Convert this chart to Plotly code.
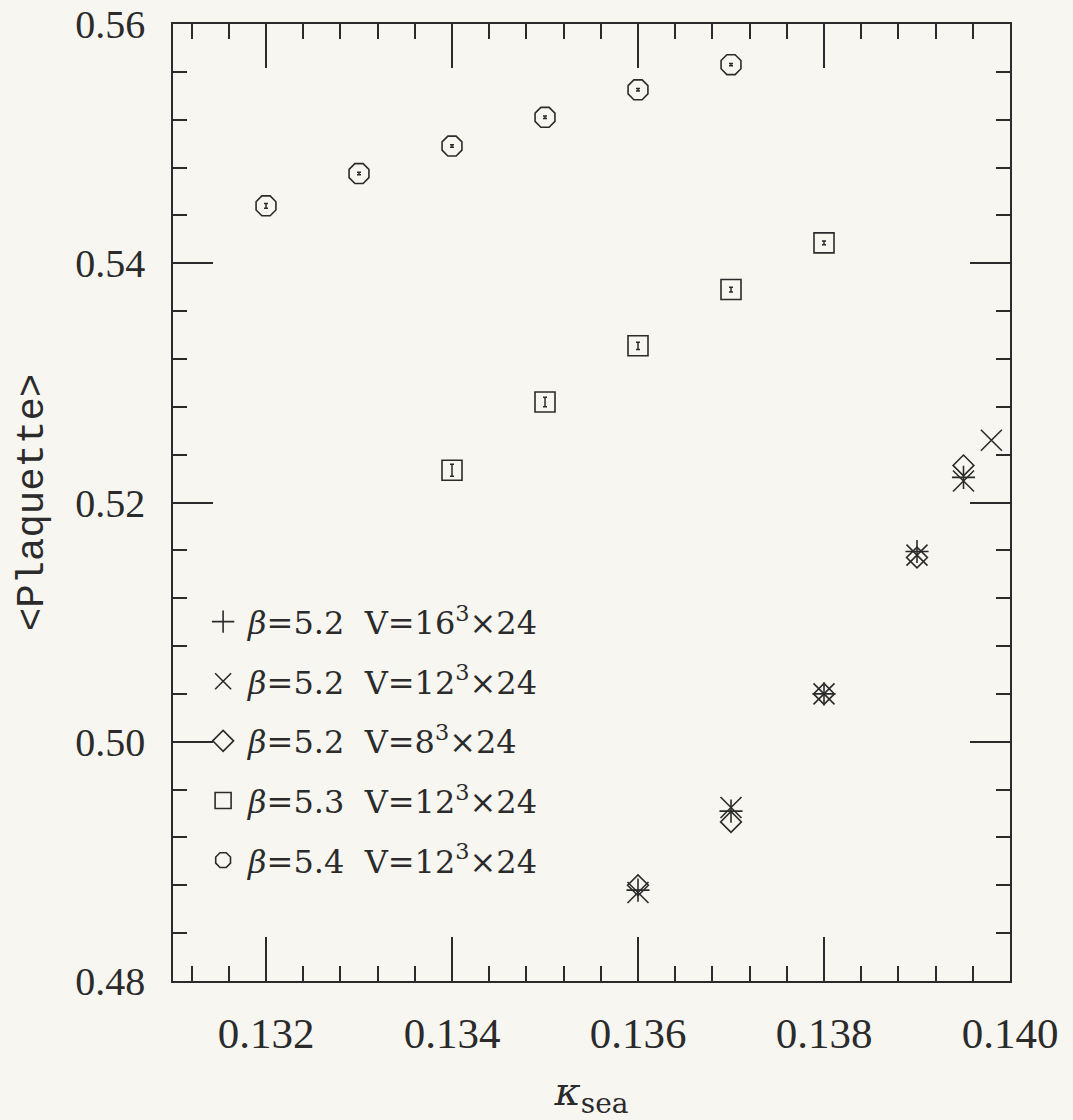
import plotly.graph_objects as go

# beta = 5.2, V = 16^3 x 24
kappa_b52_v16 = [0.136, 0.137, 0.138, 0.139, 0.1395]
plaq_b52_v16 = [0.4876, 0.4942, 0.5040, 0.5159, 0.5221]

# beta = 5.2, V = 12^3 x 24
kappa_b52_v12 = [0.136, 0.137, 0.138, 0.139, 0.1395, 0.1398]
plaq_b52_v12 = [0.4874, 0.4945, 0.5040, 0.5156, 0.5218, 0.5252]

# beta = 5.2, V = 8^3 x 24
kappa_b52_v8 = [0.136, 0.137, 0.138, 0.139, 0.1395]
plaq_b52_v8 = [0.4880, 0.4933, 0.5040, 0.5154, 0.5231]

# beta = 5.3, V = 12^3 x 24
kappa_b53 = [0.134, 0.135, 0.136, 0.137, 0.138]
plaq_b53 = [0.5227, 0.5284, 0.5331, 0.5378, 0.5417]
err_b53 = [0.0005, 0.0004, 0.0003, 0.0002, 0.00015]

# beta = 5.4, V = 12^3 x 24
kappa_b54 = [0.132, 0.133, 0.134, 0.135, 0.136, 0.137]
plaq_b54 = [0.5448, 0.5475, 0.5498, 0.5522, 0.5545, 0.5566]
err_b54 = [0.0002, 0.0001, 0.0001, 0.0001, 0.0001, 0.0001]

series_names = [
    "<i>β</i>=5.2\u00a0\u00a0V=16<sup>3</sup>×24",
    "<i>β</i>=5.2\u00a0\u00a0V=12<sup>3</sup>×24",
    "<i>β</i>=5.2\u00a0\u00a0V=8<sup>3</sup>×24",
    "<i>β</i>=5.3\u00a0\u00a0V=12<sup>3</sup>×24",
    "<i>β</i>=5.4\u00a0\u00a0V=12<sup>3</sup>×24",
]

INK = "#2b2b2b"
BG = "#f7f6f1"

fig = go.Figure()

def add_series(x, y, name, symbol, size, err=None, group="g"):
    kw = {}
    if err is not None:
        kw["error_y"] = dict(type="data", array=err, visible=True,
                             color=INK, thickness=1.5, width=2)
    fig.add_trace(go.Scatter(
        x=x, y=y, mode="markers", name=name, legendgroup=group,
        marker=dict(symbol=symbol, size=size, color=INK,
                    line=dict(color=INK, width=1.6)),
        **kw,
    ))

add_series(kappa_b52_v16, plaq_b52_v16, series_names[0], "cross-thin-open", 16.5, group="a")
add_series(kappa_b52_v12, plaq_b52_v12, series_names[1], "x-thin-open", 21, group="b")
add_series(kappa_b52_v8, plaq_b52_v8, series_names[2], "diamond-open", 16, group="c")
add_series(kappa_b53, plaq_b53, series_names[3], "square-open", 20, err=err_b53, group="d")
add_series(kappa_b54, plaq_b54, series_names[4], "octagon-open", 21.5, err=err_b54, group="e")

axis_common = dict(
    showgrid=False, zeroline=False, showline=True, linecolor=INK, linewidth=1.6,
    mirror="ticks", ticks="inside", tickcolor=INK, tickwidth=1.6,
    automargin=False,
)

fig.update_xaxes(
    range=[0.131, 0.140], tick0=0.132, dtick=0.002, tickformat=".3f",
    ticklen=44,
    tickfont=dict(family="Liberation Serif", size=43, color=INK),
    ticklabelstandoff=14,
    minor=dict(dtick=0.0004, tick0=0.132, ticklen=15, ticks="inside",
               tickcolor=INK, tickwidth=1.6),
    title=dict(text="<i>κ</i><sub>sea</sub>",
               font=dict(family="DejaVu Serif", size=40, color=INK), standoff=32),
    **axis_common,
)
fig.update_yaxes(
    range=[0.48, 0.56], tick0=0.48, dtick=0.02, tickformat=".2f",
    ticklen=40,
    tickfont=dict(family="Liberation Serif", size=40, color=INK),
    ticklabelstandoff=18,
    minor=dict(dtick=0.004, tick0=0.48, ticklen=14, ticks="inside",
               tickcolor=INK, tickwidth=1.6),
    title=dict(text="&lt;Plaquette&gt;",
               font=dict(family="Liberation Mono", size=39, color=INK), standoff=20),
    **axis_common,
)

fig.update_layout(
    width=1073, height=1120,
    margin=dict(l=173, r=63, t=24, b=139),
    paper_bgcolor=BG, plot_bgcolor=BG,
    showlegend=True,
    legend=dict(
        x=0.03, y=0.404, xanchor="left", yanchor="top",
        bgcolor="rgba(0,0,0,0)", borderwidth=0,
        font=dict(family="DejaVu Serif", size=32, color=INK),
        tracegroupgap=15, itemwidth=40,
    ),
)

fig.write_html("out.html")
